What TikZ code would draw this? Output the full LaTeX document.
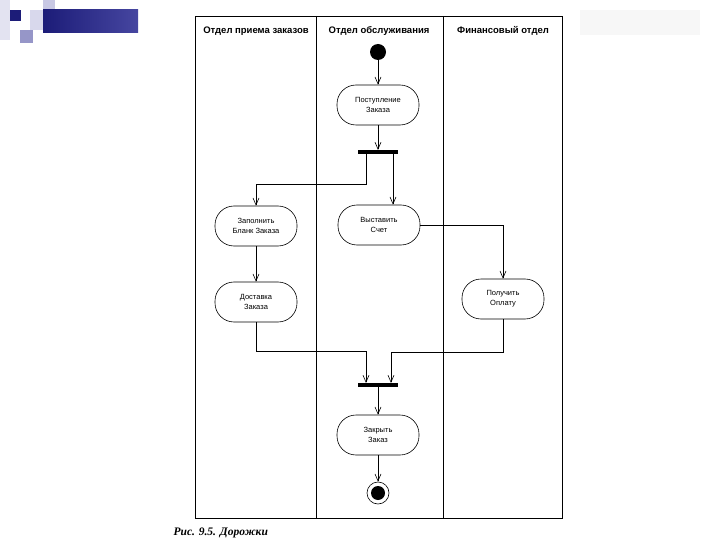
\documentclass[tikz,border=0pt]{standalone}
\usepackage{fontspec}
\setmainfont{Liberation Sans}
\newfontfamily\capfont{Liberation Serif}
\usetikzlibrary{arrows.meta,positioning}

\definecolor{navy}{RGB}{28,28,120}
\definecolor{navylight}{RGB}{70,70,160}
\definecolor{lilac}{RGB}{200,200,228}
\definecolor{lilacmid}{RGB}{150,150,200}

\begin{document}
\begin{tikzpicture}[x=1pt, y=-1pt, >={Straight Barb[length=7pt,width=6pt]}, line width=0.6pt,
	activity/.style={draw, rounded corners=19pt, minimum width=82pt, minimum height=40pt,
		align=center, font=\fontsize{7.5}{10}\selectfont},
	lane/.style={anchor=base, font=\bfseries\fontsize{9.5}{11}\selectfont},
	startdot/.style={circle, fill, minimum size=16pt, inner sep=0pt},
	finaldot/.style={circle, draw, minimum size=22pt, inner sep=0pt,
		path picture={\fill (path picture bounding box.center) circle (7pt);}},
	syncbar/.style={fill, minimum width=40pt, minimum height=3.5pt, inner sep=0pt}]
	\useasboundingbox (0,0) rectangle (720,540);

	% slide decoration
	\fill[lilac!50] (0,0) rectangle (10,40);
	\fill[lilac!70] (30,10) rectangle (43,30);
	\fill[lilac] (43,0) rectangle (55,20);
	\fill[lilacmid] (20,30) rectangle (33,43);
	\fill[navy] (10,10) rectangle (21,21);
	\shade[left color=navy, right color=navylight] (43,10) rectangle (138,33);
	\fill[gray!6] (580,10) rectangle (700,35);

	% Swimlanes
	\draw (195,16) rectangle (562,518);
	\draw (316,16) -- (316,518);
	\draw (443,16) -- (443,518);
	\node [lane] (lane1) at (256,34) {Отдел приема заказов};
	\node [lane] (lane2) at (379,34) {Отдел обслуживания};
	\node [lane] (lane3) at (503,34) {Финансовый отдел};

	% Nodes
	\node [startdot] (start) at (378,52) {};
	\node [activity] (recv) at (378,105) {Поступление\\Заказа};
	\node [syncbar] (fork) at (378,152) {};
	\node [activity] (fill) at (256,226) {Заполнить\\Бланк Заказа};
	\node [activity] (bill) at (379,225) {Выставить\\Счет};
	\node [activity] (deliver) at (256,302) {Доставка\\Заказа};
	\node [activity] (pay) at (503,299) {Получить\\Оплату};
	\node [syncbar] (join) at (378,385) {};
	\node [activity] (close) at (378,435) {Закрыть\\Заказ};
	\node [finaldot] (stop) at (378,493) {};

	% Paths
	\draw [->] (start) -- (recv);
	\draw [->] (recv) -- (fork);
	\draw [->] ([xshift=-12pt]fork.south) -- ++(0,30) -| (fill.north);
	\draw [->] ([xshift=15pt]fork.south) -- ([xshift=15pt]fork.south |- bill.north);
	\draw [->] (bill.east) -| (pay.north);
	\draw [->] (fill) -- (deliver);
	\draw [->] (deliver.south) -- ++(0,29) -| ([xshift=-12pt]join.north);
	\draw [->] (pay.south) -- ++(0,33) -| ([xshift=13pt]join.north);
	\draw [->] (join) -- (close);
	\draw [->] (close) -- (stop);

	% caption
	\node [anchor=base west, font=\capfont\bfseries\itshape\fontsize{11.5}{13}\selectfont]
		(caption) at (170,535) {Рис. 9.5. Дорожки};
\end{tikzpicture}
\end{document}
